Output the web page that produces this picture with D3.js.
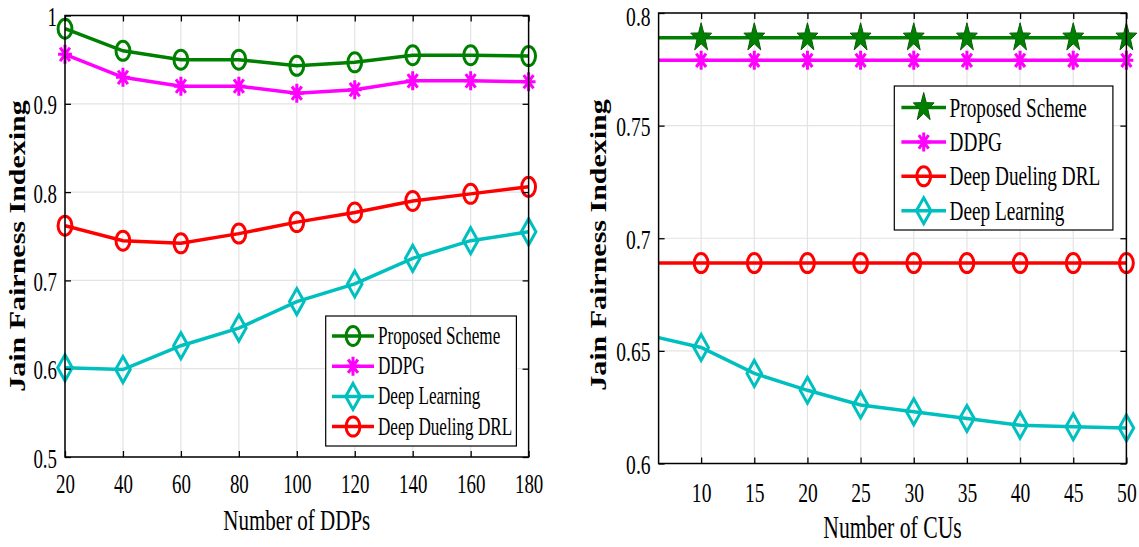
<!DOCTYPE html>
<html>
<head>
<meta charset="utf-8">
<script src="https://cdn.jsdelivr.net/npm/d3@7"></script>
<style>
  body { margin: 0; background: #fff; }
  text { font-family: "Liberation Serif", "Times New Roman", serif; fill: #000; }
</style>
</head>
<body>
<script>
// ---- data ----
const ddps = [20, 40, 60, 80, 100, 120, 140, 160, 180];
const leftProposed     = [0.985, 0.960, 0.950, 0.950, 0.943, 0.947, 0.955, 0.955, 0.954];
const leftDDPG         = [0.956, 0.930, 0.920, 0.920, 0.912, 0.916, 0.926, 0.926, 0.925];
const leftDeepLearning = [0.601, 0.599, 0.626, 0.646, 0.676, 0.696, 0.725, 0.745, 0.755];
const leftDueling      = [0.762, 0.745, 0.742, 0.753, 0.766, 0.777, 0.790, 0.798, 0.806];
const leftXTicks = [20, 40, 60, 80, 100, 120, 140, 160, 180];
const leftYTicks = [0.5, 0.6, 0.7, 0.8, 0.9, 1];

const cus = [5, 10, 15, 20, 25, 30, 35, 40, 45, 50];
const rightProposed     = [0.789, 0.789, 0.789, 0.789, 0.789, 0.789, 0.789, 0.789, 0.789, 0.789];
const rightDDPG         = [0.779, 0.779, 0.779, 0.779, 0.779, 0.779, 0.779, 0.779, 0.779, 0.779];
const rightDueling      = [0.689, 0.689, 0.689, 0.689, 0.689, 0.689, 0.689, 0.689, 0.689, 0.689];
const rightDeepLearning = [0.657, 0.6515, 0.640, 0.6325, 0.626, 0.623, 0.620, 0.617, 0.6163, 0.6158];
const rightXTicks = [10, 15, 20, 25, 30, 35, 40, 45, 50];
const rightYTicks = [0.6, 0.65, 0.7, 0.75, 0.8];

const GREEN = "#008000", MAGENTA = "#ff00ff", RED = "#ff0000", CYAN = "#00bfbf";
const MSQ = 0.73;  // markers are squeezed horizontally
const TSQ = 0.7;   // so is the text

const svg = d3.select("body").append("svg")
  .attr("width", 1139).attr("height", 547);

function circlePath(r) {
  return `M${r},0A${r},${r} 0 1,1 ${-r},0A${r},${r} 0 1,1 ${r},0Z`;
}
// marker shapes, drawn around (0,0) before the squeeze
function markerPath(kind) {
  if (kind === "circle") return circlePath(9.5);
  if (kind === "diamond") return "M0,-13L10,0L0,13L-10,0Z";
  if (kind === "star") {
    let p = "";
    for (let i = 0; i < 10; i++) {
      const r = i % 2 === 0 ? 15 : 6;
      const a = -Math.PI / 2 + i * Math.PI / 5;
      p += (i ? "L" : "M") + (r * Math.cos(a)).toFixed(2) + "," + (r * Math.sin(a)).toFixed(2);
    }
    return p + "Z";
  }
  if (kind === "asterisk") {
    const r = 9.5, d = 6.7;
    return `M0,${-r}L0,${r}M${-r},0L${r},0M${-d},${-d}L${d},${d}M${-d},${d}L${d},${-d}`;
  }
}

function drawMarker(g, kind, color, x, y) {
  g.append("path")
    .attr("d", markerPath(kind))
    .attr("transform", `translate(${x},${y}) scale(${MSQ},1)`)
    .attr("fill", kind === "star" ? color : "none")
    .attr("stroke", kind === "star" ? "#0a5a0a" : color)
    .attr("stroke-width", kind === "star" ? 1 : 3)
    .attr("vector-effect", "non-scaling-stroke");
}

function squeezedText(g, str, x, y, size, anchor) {
  return g.append("text")
    .attr("transform", `translate(${x},${y}) scale(${TSQ},1)`)
    .attr("text-anchor", anchor || "start")
    .attr("font-size", size)
    .text(str);
}

function panel(cfg) {
  const g = svg.append("g");
  const x = d3.scaleLinear().domain(cfg.xDomain).range([cfg.left, cfg.right]);
  const y = d3.scaleLinear().domain(cfg.yDomain).range([cfg.bottom, cfg.top]);
  const clipId = "clip" + cfg.id;

  g.append("clipPath").attr("id", clipId)
    .append("rect")
    .attr("x", cfg.left).attr("y", cfg.top)
    .attr("width", cfg.right - cfg.left).attr("height", cfg.bottom - cfg.top);

  // grid
  g.append("g").selectAll("line").data(cfg.xTicks).join("line")
    .attr("x1", d => x(d)).attr("x2", d => x(d))
    .attr("y1", cfg.top).attr("y2", cfg.bottom)
    .attr("stroke", "#e3e3e3").attr("stroke-width", 1.2);
  g.append("g").selectAll("line").data(cfg.yTicks).join("line")
    .attr("x1", cfg.left).attr("x2", cfg.right)
    .attr("y1", d => y(d)).attr("y2", d => y(d))
    .attr("stroke", "#e3e3e3").attr("stroke-width", 1.2);

  // series
  cfg.series.forEach(s => {
    const pts = cfg.xs.map((xv, i) => [xv, s.values[i]]);
    g.append("path")
      .datum(pts)
      .attr("clip-path", `url(#${clipId})`)
      .attr("fill", "none")
      .attr("stroke", s.color)
      .attr("stroke-width", 3.5)
      .attr("d", d3.line().x(d => x(d[0])).y(d => y(d[1])));
    const mg = g.append("g");
    pts.filter(d => d[0] >= cfg.xDomain[0] && d[0] <= cfg.xDomain[1])
      .forEach(d => drawMarker(mg, s.marker, s.color, x(d[0]), y(d[1])));
  });

  // axes (inward ticks on all four sides)
  const tick = 6;
  const ax = [
    g.append("g").attr("transform", `translate(0,${cfg.bottom})`)
      .call(d3.axisBottom(x).tickValues(cfg.xTicks).tickSize(-tick).tickFormat(d => d)),
    g.append("g").attr("transform", `translate(0,${cfg.top})`)
      .call(d3.axisTop(x).tickValues(cfg.xTicks).tickSize(-tick).tickFormat("")),
    g.append("g").attr("transform", `translate(${cfg.left},0)`)
      .call(d3.axisLeft(y).tickValues(cfg.yTicks).tickSize(-tick).tickFormat(d => String(+d.toFixed(2)))),
    g.append("g").attr("transform", `translate(${cfg.right},0)`)
      .call(d3.axisRight(y).tickValues(cfg.yTicks).tickSize(-tick).tickFormat(""))
  ];
  ax.forEach(a => {
    a.select(".domain").remove();
    a.selectAll(".tick line").attr("stroke", "#000").attr("stroke-width", 1.3);
  });
  ax[0].selectAll(".tick text")
    .attr("x", null).attr("y", null).attr("dy", null)
    .attr("font-size", cfg.tickFont).attr("font-family", null)
    .attr("transform", `translate(0,${cfg.xTickDy}) scale(${TSQ},1)`);
  ax[2].selectAll(".tick text")
    .attr("x", null).attr("y", null).attr("dy", null)
    .attr("font-size", cfg.tickFont).attr("font-family", null)
    .attr("text-anchor", "end")
    // keep the topmost label inside the page
    .attr("transform", d => `translate(-8,${Math.max(cfg.yTickDy, cfg.tickFont * 0.9 - y(d))}) scale(${TSQ},1)`);

  g.append("rect")
    .attr("x", cfg.left).attr("y", cfg.top)
    .attr("width", cfg.right - cfg.left).attr("height", cfg.bottom - cfg.top)
    .attr("fill", "none").attr("stroke", "#000").attr("stroke-width", 1.5);

  // axis labels
  squeezedText(g, cfg.xLabel, (cfg.left + cfg.right) / 2, cfg.xLabelY, cfg.labelFont, "middle");
  g.append("text")
    .attr("transform", `translate(${cfg.yLabelX},${cfg.yLabelY}) scale(0.75,1) rotate(-90)`)
    .attr("text-anchor", "middle")
    .attr("font-size", 30)
    .attr("font-weight", "bold")
    .text("Jain Fairness Indexing");

  // legend
  const L = cfg.legend;
  const lg = g.append("g");
  lg.append("rect")
    .attr("x", L.x0).attr("y", L.y0)
    .attr("width", L.x1 - L.x0).attr("height", L.y1 - L.y0)
    .attr("fill", "#fff").attr("stroke", "#000").attr("stroke-width", 1.2);
  cfg.series.forEach((s, i) => {
    const yy = L.firstY + i * L.step;
    lg.append("line")
      .attr("x1", L.lineX0).attr("x2", L.lineX1)
      .attr("y1", yy).attr("y2", yy)
      .attr("stroke", s.color).attr("stroke-width", 3.5);
    drawMarker(lg, s.marker, s.color, (L.lineX0 + L.lineX1) / 2, yy);
    squeezedText(lg, s.name, L.textX, yy + L.font * 0.33, L.font, "start");
  });
}

panel({
  id: "L",
  xs: ddps,
  xDomain: [20, 180], yDomain: [0.5, 1],
  left: 65, right: 528.6, top: 15.5, bottom: 457,
  xTicks: leftXTicks, yTicks: leftYTicks,
  tickFont: 27, xTickDy: 36, yTickDy: 10,
  xLabel: "Number of DDPs", xLabelY: 530, labelFont: 30,
  yLabelX: 25, yLabelY: 246,
  series: [
    { name: "Proposed Scheme", values: leftProposed, color: GREEN, marker: "circle" },
    { name: "DDPG", values: leftDDPG, color: MAGENTA, marker: "asterisk" },
    { name: "Deep Learning", values: leftDeepLearning, color: CYAN, marker: "diamond" },
    { name: "Deep Dueling DRL", values: leftDueling, color: RED, marker: "circle" }
  ],
  legend: { x0: 325.7, x1: 516.4, y0: 316, y1: 446, firstY: 336, step: 30.2,
            lineX0: 332, lineX1: 374, textX: 378, font: 24.5 }
});

panel({
  id: "R",
  xs: cus,
  xDomain: [6, 50], yDomain: [0.6, 0.8],
  left: 658.6, right: 1126.4, top: 13, bottom: 463.5,
  xTicks: rightXTicks, yTicks: rightYTicks,
  tickFont: 28, xTickDy: 38, yTickDy: 10,
  xLabel: "Number of CUs", xLabelY: 538, labelFont: 31,
  yLabelX: 606, yLabelY: 245,
  series: [
    { name: "Proposed Scheme", values: rightProposed, color: GREEN, marker: "star" },
    { name: "DDPG", values: rightDDPG, color: MAGENTA, marker: "asterisk" },
    { name: "Deep Dueling DRL", values: rightDueling, color: RED, marker: "circle" },
    { name: "Deep Learning", values: rightDeepLearning, color: CYAN, marker: "diamond" }
  ],
  legend: { x0: 894.3, x1: 1112.9, y0: 86, y1: 230, firstY: 107.5, step: 34.4,
            lineX0: 901.4, lineX1: 946, textX: 949.6, font: 27.5 }
});
</script>
</body>
</html>
